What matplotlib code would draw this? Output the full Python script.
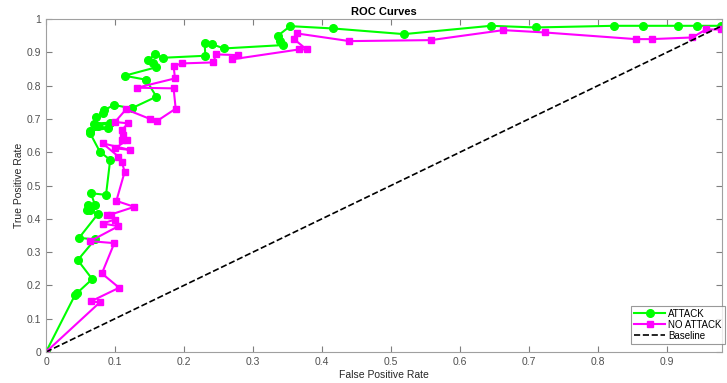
import matplotlib
matplotlib.use("Agg")
import matplotlib.pyplot as plt
import numpy as np

plt.rcParams['font.family'] = ['Liberation Sans', 'DejaVu Sans']

# ATTACK curve (false positive rate, true positive rate)
attack_fpr = [0, 0.042, 0.045, 0.067, 0.046, 0.071, 0.048, 0.075, 0.064, 0.059,
              0.061, 0.071, 0.065, 0.087, 0.093, 0.078, 0.064, 0.064, 0.090, 0.076,
              0.093, 0.069, 0.073, 0.082, 0.084, 0.099, 0.124, 0.160, 0.145, 0.114,
              0.159, 0.155, 0.148, 0.158, 0.170, 0.231, 0.230, 0.240, 0.258, 0.343,
              0.339, 0.336, 0.354, 0.416, 0.519, 0.645, 0.710, 0.823, 0.866, 0.917,
              0.944, 0.979]
attack_tpr = [0, 0.171, 0.177, 0.219, 0.276, 0.338, 0.343, 0.414, 0.427, 0.426,
              0.443, 0.442, 0.477, 0.472, 0.577, 0.602, 0.657, 0.665, 0.672, 0.679,
              0.689, 0.686, 0.705, 0.717, 0.727, 0.742, 0.732, 0.767, 0.818, 0.830,
              0.855, 0.869, 0.877, 0.894, 0.884, 0.890, 0.927, 0.925, 0.912, 0.922,
              0.935, 0.950, 0.979, 0.972, 0.955, 0.980, 0.975, 0.980, 0.980, 0.980,
              0.980, 0.980]

# NO ATTACK curve
noattack_fpr = [0, 0.078, 0.065, 0.106, 0.081, 0.099, 0.064, 0.105, 0.082, 0.100,
                0.088, 0.094, 0.128, 0.102, 0.114, 0.110, 0.105, 0.082, 0.122, 0.100,
                0.118, 0.110, 0.111, 0.110, 0.119, 0.100, 0.116, 0.151, 0.161, 0.188,
                0.185, 0.132, 0.187, 0.185, 0.197, 0.242, 0.247, 0.279, 0.269, 0.367,
                0.378, 0.360, 0.364, 0.440, 0.558, 0.663, 0.723, 0.855, 0.878, 0.937,
                0.957, 0.979]
noattack_tpr = [0, 0.149, 0.152, 0.193, 0.236, 0.327, 0.333, 0.378, 0.386, 0.398,
                0.413, 0.413, 0.436, 0.454, 0.541, 0.571, 0.587, 0.627, 0.607, 0.612,
                0.637, 0.637, 0.651, 0.667, 0.687, 0.691, 0.729, 0.700, 0.694, 0.731,
                0.792, 0.794, 0.822, 0.859, 0.867, 0.870, 0.894, 0.892, 0.879, 0.909,
                0.909, 0.939, 0.957, 0.934, 0.937, 0.967, 0.960, 0.940, 0.940, 0.945,
                0.969, 0.969]

baseline = [0, 0.98]

fig = plt.figure(figsize=(7.27, 3.83), dpi=100)
ax = fig.add_axes([0.0633, 0.081, 0.9297, 0.869])

ax.plot(attack_fpr, attack_tpr, '-o', color='#00ff00', lw=1.5, ms=5.5, label='ATTACK')
ax.plot(noattack_fpr, noattack_tpr, '-s', color='#ff00ff', lw=1.5, ms=4, label='NO ATTACK')
ax.plot(baseline, baseline, '--', color='k', lw=1.2, label='Baseline')

ax.set_xlim(0, 0.98)
ax.set_ylim(0, 1)
ax.set_xticks(np.arange(0, 0.91, 0.1))
ax.set_xticklabels(['0', '0.1', '0.2', '0.3', '0.4', '0.5', '0.6', '0.7', '0.8', '0.9'])
ax.set_yticks(np.arange(0, 1.01, 0.1))
ax.set_yticklabels(['0', '0.1', '0.2', '0.3', '0.4', '0.5', '0.6', '0.7', '0.8', '0.9', '1'])

grey = '#7f7f7f'
for s in ax.spines.values():
    s.set_color('#a0a0a0')
    s.set_linewidth(0.8)
ax.tick_params(direction='in', length=4, width=0.8, colors=grey, labelsize=7.5,
               top=True, right=True, labelcolor='#505050')

ax.set_title('ROC Curves', fontsize=8, fontweight='bold', pad=3)
ax.set_xlabel('False Positive Rate', fontsize=7.5, color='#262626', labelpad=2)
ax.set_ylabel('True Positive Rate', fontsize=7.5, color='#262626', labelpad=2)

leg = ax.legend(loc='lower right', bbox_to_anchor=(1.004, 0.025), fontsize=7, frameon=True,
                fancybox=False, borderpad=0.3, labelspacing=0.1, handlelength=3.2,
                handletextpad=0.3, borderaxespad=0.0)
leg.get_frame().set_edgecolor('#808080')
leg.get_frame().set_linewidth(0.8)

fig.savefig('out.png', dpi=100)
